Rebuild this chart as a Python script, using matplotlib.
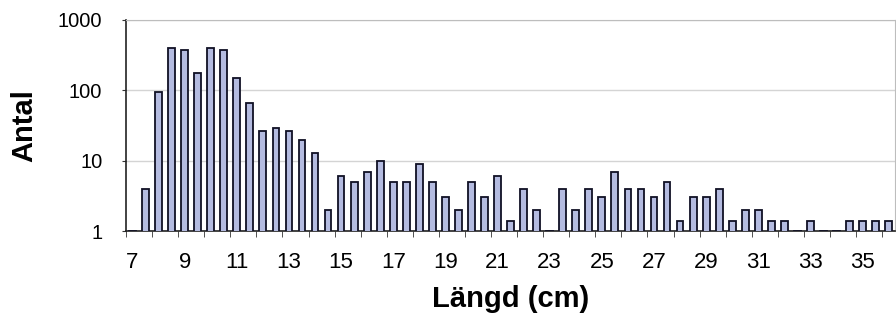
import numpy as np
import matplotlib.pyplot as plt

plt.rcParams['font.family'] = ['Liberation Sans', 'DejaVu Sans']

# length classes (cm) in half-cm steps, and number of fish in each
langd = np.arange(7.0, 36.5, 0.5)
antal = [1, 4, 96, 400, 375, 175, 395, 375, 150, 66,
         26, 29, 26, 20, 13, 2, 6, 5, 7, 10,
         5, 5, 9, 5, 3, 2, 5, 3, 6, 1.4,
         4, 2, 1, 4, 2, 4, 3, 7, 4, 4,
         3, 5, 1.4, 3, 3, 4, 1.4, 2, 2, 1.4,
         1.4, 1, 1.4, 1, 1, 1.4, 1.4, 1.4, 1.4]
tick_labels = [7, 9, 11, 13, 15, 17, 19, 21, 23, 25, 27, 29, 31, 33, 35]

fig = plt.figure(figsize=(8.96, 3.31), dpi=100)
ax = fig.add_axes([0.1406, 0.302, 0.8585, 0.6376])

idx = np.arange(len(langd))
ax.bar(idx, antal, width=0.52, bottom=0, color='#b4bbe0',
       edgecolor='#101024', linewidth=1.3, zorder=3)

ax.set_yscale('log')
ax.set_ylim(1, 1000)
ax.set_xlim(-0.5, len(langd) - 0.5)
ax.set_yticks([1, 10, 100, 1000])
ax.set_yticklabels(['1', '10', '100', '1000'], fontsize=14.5)
ax.yaxis.set_minor_locator(plt.NullLocator())
ax.tick_params(axis='y', length=3, pad=14, color='#333333')

# labels sit under the class centres, tick marks between classes
pos = [list(langd).index(v) for v in tick_labels]
ax.set_xticks(pos)
ax.set_xticklabels([str(v) for v in tick_labels], fontsize=16)
ax.set_xticks(np.arange(-0.5, len(langd), 2), minor=True)
ax.tick_params(axis='x', which='major', length=0, pad=15)
ax.tick_params(axis='x', which='minor', length=4, color='#333333')

ax.grid(axis='y', which='major', color='#d4d4d4', lw=1, zorder=0)
for s in ['left', 'bottom']:
    ax.spines[s].set_color('#222222')
    ax.spines[s].set_linewidth(1.2)
for s in ['top', 'right']:
    ax.spines[s].set_color('#bdbdbd')

ax.set_ylabel('Antal', fontsize=21, fontweight='bold', labelpad=14)
ax.set_xlabel('Längd (cm)', fontsize=21, fontweight='bold', labelpad=9)

fig.savefig('out.png', dpi=100)
